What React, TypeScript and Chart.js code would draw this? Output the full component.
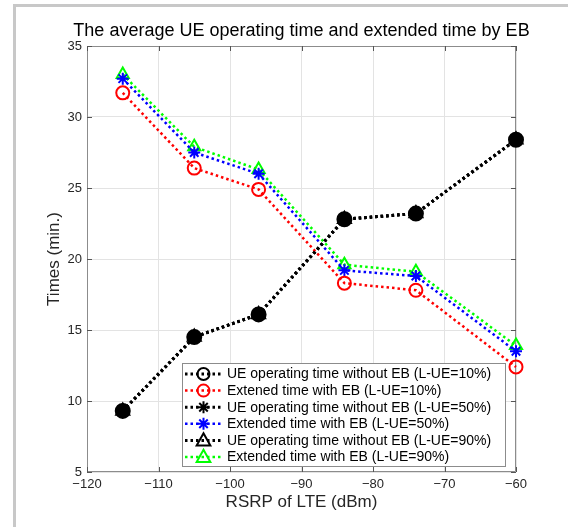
import React, { useEffect, useRef } from 'react';
import { Chart, registerables } from 'chart.js';

Chart.register(...registerables);

const xValues = [-115, -105, -96, -84, -74, -60];
const ueTime10 = [9.3, 14.5, 16.1, 22.8, 23.2, 28.4];
const extTime10 = [31.7, 26.4, 24.9, 18.3, 17.8, 12.4];
const ueTime50 = [9.3, 14.5, 16.1, 22.8, 23.2, 28.4];
const extTime50 = [32.7, 27.5, 26.0, 19.2, 18.8, 13.5];
const ueTime90 = [9.3, 14.5, 16.1, 22.8, 23.2, 28.4];
const extTime90 = [33.0, 27.9, 26.3, 19.6, 19.1, 13.9];

const seriesLabels = [
  'UE operating time without EB (L-UE=10%)',
  'Extened time with EB (L-UE=10%)',
  'UE operating time without EB (L-UE=50%)',
  'Extended time with EB (L-UE=50%)',
  'UE operating time without EB (L-UE=90%)',
  'Extended time with EB (L-UE=90%)',
];
const xTicks = [-120, -110, -100, -90, -80, -70, -60];
const yTicks = [5, 10, 15, 20, 25, 30, 35];

const titleText = 'The average UE operating time and extended time by EB';
const xTitle = 'RSRP of LTE (dBm)';
const yTitle = 'Times (min.)';

const FONT = '"Liberation Sans", Arial, sans-serif';

function drawMarker(ctx: CanvasRenderingContext2D, style: string, x: number, y: number, r: number, color: string, lw: number) {
  ctx.save();
  ctx.strokeStyle = color;
  ctx.lineWidth = lw;
  ctx.setLineDash([]);
  ctx.beginPath();
  if (style === 'circle') {
    ctx.arc(x, y, r, 0, Math.PI * 2);
  } else if (style === 'triangle') {
    const h = r * 1.2;
    ctx.moveTo(x, y - h);
    ctx.lineTo(x + h * 0.95, y + h * 0.7);
    ctx.lineTo(x - h * 0.95, y + h * 0.7);
    ctx.closePath();
  } else if (style === 'star') {
    for (let i = 0; i < 4; i++) {
      const a = (i * Math.PI) / 4;
      ctx.moveTo(x + Math.cos(a) * r, y + Math.sin(a) * r);
      ctx.lineTo(x - Math.cos(a) * r, y - Math.sin(a) * r);
    }
  }
  ctx.stroke();
  ctx.restore();
}

const decorPlugin = {
  id: 'decor',
  beforeDraw(chart: any) {
    const ctx = chart.ctx;
    ctx.save();
    ctx.fillStyle = '#ffffff';
    ctx.fillRect(0, 0, chart.width, chart.height);
    ctx.strokeStyle = '#c8c8c8';
    ctx.lineWidth = 3;
    ctx.beginPath();
    ctx.moveTo(14.5, chart.height);
    ctx.lineTo(14.5, 5.5);
    ctx.lineTo(chart.width, 5.5);
    ctx.stroke();
    ctx.restore();
  },
  beforeDatasetsDraw(chart: any) {
    const ctx = chart.ctx;
    const { left, right, top, bottom } = chart.chartArea;
    const xs = chart.scales.x;
    const ys = chart.scales.y;
    ctx.save();
    ctx.strokeStyle = '#8c8c8c';
    ctx.lineWidth = 1;
    ctx.beginPath();
    ctx.rect(left + 0.5, top + 0.5, right - left - 1, bottom - top - 1);
    ctx.stroke();
    ctx.strokeStyle = '#555555';
    ctx.beginPath();
    const tl = 5;
    xTicks.forEach((v) => {
      const px = Math.round(xs.getPixelForValue(v)) + 0.5;
      ctx.moveTo(px, bottom);
      ctx.lineTo(px, bottom - tl);
      ctx.moveTo(px, top);
      ctx.lineTo(px, top + tl);
    });
    yTicks.forEach((v) => {
      const py = Math.round(ys.getPixelForValue(v)) + 0.5;
      ctx.moveTo(left, py);
      ctx.lineTo(left + tl, py);
      ctx.moveTo(right, py);
      ctx.lineTo(right - tl, py);
    });
    ctx.stroke();
    ctx.restore();
  },
  afterDraw(chart: any) {
    const ctx = chart.ctx;
    const { left, right, bottom } = chart.chartArea;
    ctx.save();
    // title
    ctx.fillStyle = '#000000';
    ctx.font = `18px ${FONT}`;
    ctx.textAlign = 'center';
    ctx.textBaseline = 'middle';
    ctx.fillText(titleText, (left + right) / 2, 31);

    // legend
    const boxRight = right - 10;
    const boxBottom = bottom - 5;
    const boxLeft = boxRight - 324;
    const boxTop = boxBottom - 104;
    ctx.fillStyle = '#ffffff';
    ctx.fillRect(boxLeft, boxTop, boxRight - boxLeft, boxBottom - boxTop);
    ctx.strokeStyle = '#8c8c8c';
    ctx.lineWidth = 1;
    ctx.strokeRect(boxLeft + 0.5, boxTop + 0.5, boxRight - boxLeft - 1, boxBottom - boxTop - 1);
    ctx.font = `14px ${FONT}`;
    ctx.textAlign = 'left';
    ctx.textBaseline = 'middle';
    chart.data.datasets.forEach((ds: any, i: number) => {
      const y = boxTop + 11 + i * 16.6;
      const x0 = boxLeft + 3;
      const x1 = boxLeft + 40;
      ctx.save();
      ctx.strokeStyle = ds.borderColor;
      ctx.lineWidth = ds.borderWidth;
      ctx.setLineDash(ds.borderDash);
      ctx.beginPath();
      ctx.moveTo(x0, y);
      ctx.lineTo(x1, y);
      ctx.stroke();
      ctx.restore();
      drawMarker(ctx, ds.pointStyle, (x0 + x1) / 2, y, 6, ds.borderColor, 2);
      ctx.fillStyle = '#000000';
      ctx.fillText(ds.label, boxLeft + 45, y + 0.5);
    });
    ctx.restore();
  },
};

export default function App() {
  const canvasRef = useRef<HTMLCanvasElement | null>(null);

  useEffect(() => {
    document.body.style.margin = '0';
    const canvas = canvasRef.current;
    if (!canvas) return;
    const mk = (label: string, data: number[], color: string, style: string, bw: number, radius: number, fillColor: string) => ({
      label,
      data: xValues.map((x, i) => ({ x, y: data[i] })),
      borderColor: color,
      backgroundColor: 'rgba(0,0,0,0)',
      borderWidth: bw,
      borderDash: [2.5, 3],
      pointStyle: style,
      pointRadius: radius,
      pointBorderWidth: 2,
      pointBorderColor: color,
      pointBackgroundColor: fillColor,
      showLine: true,
      fill: false,
      tension: 0,
      clip: false,
    });
    const none = 'rgba(0,0,0,0)';
    const chart = new Chart(canvas, {
      type: 'scatter',
      data: {
        datasets: [
          mk(seriesLabels[0], ueTime10, '#000000', 'circle', 3, 7, '#000000'),
          mk(seriesLabels[1], extTime10, '#ff0000', 'circle', 2.5, 6.5, none),
          mk(seriesLabels[2], ueTime50, '#000000', 'star', 3, 7, none),
          mk(seriesLabels[3], extTime50, '#0000ff', 'star', 2.5, 6, none),
          mk(seriesLabels[4], ueTime90, '#000000', 'triangle', 3, 7.5, '#000000'),
          mk(seriesLabels[5], extTime90, '#00ff00', 'triangle', 2.5, 7, none),
        ] as any,
      },
      options: {
        animation: false,
        responsive: false,
        maintainAspectRatio: false,
        layout: { padding: { left: 0, right: 52, top: 46, bottom: 0 } },
        plugins: {
          legend: { display: false },
          title: { display: false },
          tooltip: { enabled: false },
        },
        scales: {
          x: {
            type: 'linear',
            min: -120,
            max: -60,
            afterBuildTicks: (scale: any) => {
              scale.ticks = xTicks.map((v) => ({ value: v }));
            },
            afterFit: (scale: any) => {
              scale.height = 55;
            },
            ticks: {
              color: '#262626',
              font: { family: FONT, size: 13 },
              padding: 5,
              maxRotation: 0,
              callback: (v: any) => String(v).replace('-', '\u2212'),
            },
            grid: { color: '#e3e3e3', drawTicks: false },
            border: { display: false },
            title: {
              display: true,
              text: xTitle,
              color: '#262626',
              font: { family: FONT, size: 17 },
              padding: { top: 0, bottom: 14 },
            },
          },
          y: {
            type: 'linear',
            min: 5,
            max: 35,
            afterBuildTicks: (scale: any) => {
              scale.ticks = yTicks.map((v) => ({ value: v }));
            },
            afterFit: (scale: any) => {
              scale.width = 87;
            },
            ticks: {
              color: '#262626',
              font: { family: FONT, size: 13 },
              padding: 5,
            },
            grid: { color: '#e3e3e3', drawTicks: false },
            border: { display: false },
            title: {
              display: true,
              text: yTitle,
              color: '#262626',
              font: { family: FONT, size: 17 },
              padding: { top: 44, bottom: 0 },
            },
          },
        },
      },
      plugins: [decorPlugin],
    } as any);
    return () => chart.destroy();
  }, []);

  return (
    <div style={{ width: 568, height: 527 }}>
      <canvas ref={canvasRef} width={568} height={527} style={{ display: 'block', width: 568, height: 527 }} />
    </div>
  );
}
